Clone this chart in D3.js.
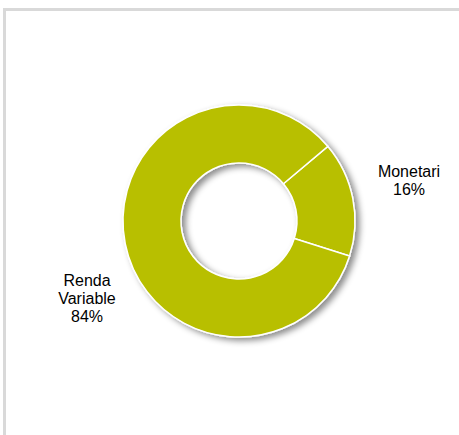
<!DOCTYPE html>
<html>
<head>
<meta charset="utf-8">
<script src="https://cdn.jsdelivr.net/npm/d3@7"></script>
<style>
  body { margin: 0; background: #fff; }
  text { font-family: "Liberation Sans", Arial, sans-serif; font-size: 16px; fill: #000; }
</style>
</head>
<body>
<div id="chart"></div>
<script>
// slices, in drawing order (clockwise from the first slice angle)
var categories = ["Monetari", "Renda Variable"];
var values = [16, 84];
var labelLines = [["Monetari", "16%"], ["Renda", "Variable", "84%"]];

var width = 459, height = 435;
var cx = 239, cy = 221;
var outerR = 116, innerR = 58;
var color = "#b8bf00";

var svg = d3.select("#chart")
    .append("svg")
    .attr("width", width)
    .attr("height", height);

// frame (only top and left edges are inside the picture)
svg.append("rect")
    .attr("x", 4.5)
    .attr("y", 9.5)
    .attr("width", 460)
    .attr("height", 440)
    .attr("fill", "none")
    .attr("stroke", "#d9d9d9")
    .attr("stroke-width", 3);

var defs = svg.append("defs");
var filter = defs.append("filter")
    .attr("id", "shadow")
    .attr("x", "-20%").attr("y", "-20%")
    .attr("width", "140%").attr("height", "140%");
filter.append("feDropShadow")
    .attr("dx", 4)
    .attr("dy", 3)
    .attr("stdDeviation", 3)
    .attr("flood-color", "#000")
    .attr("flood-opacity", 0.45);

var pie = d3.pie()
    .sort(null)
    .startAngle(50 * Math.PI / 180)
    .endAngle(50 * Math.PI / 180 + 2 * Math.PI);

var arc = d3.arc()
    .innerRadius(innerR)
    .outerRadius(outerR);

var g = svg.append("g")
    .attr("transform", "translate(" + cx + "," + cy + ")")
    .attr("filter", "url(#shadow)");

g.selectAll("path")
    .data(pie(values))
    .enter()
    .append("path")
    .attr("d", arc)
    .attr("fill", color)
    .attr("stroke", "#fff")
    .attr("stroke-width", 1.5);

// labels
var labelPos = [[409, 177], [87, 286]];
var lineH = 18;
for (var i = 0; i < categories.length; i++) {
    var t = svg.append("text")
        .attr("text-anchor", "middle")
        .attr("x", labelPos[i][0])
        .attr("y", labelPos[i][1]);
    labelLines[i].forEach(function (s, j) {
        t.append("tspan")
            .attr("x", labelPos[i][0])
            .attr("y", labelPos[i][1] + j * lineH)
            .text(s);
    });
}
</script>
</body>
</html>
